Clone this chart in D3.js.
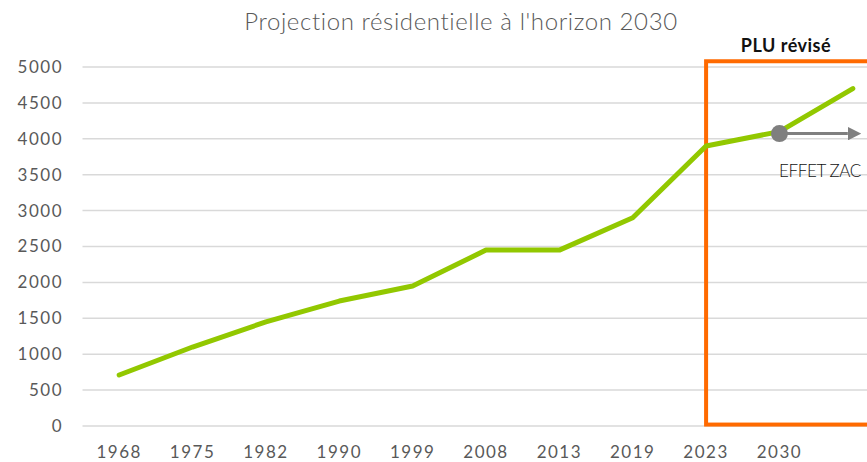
<!DOCTYPE html>
<html lang="fr">
<head>
  <meta charset="UTF-8">
  <title>Projection résidentielle à l'horizon 2030</title>
  <script src="https://d3js.org/d3.v7.min.js"></script>
  <style>
    body { margin: 0; background: #fff; }
    svg { display: block; font-family: Lato, "Open Sans", sans-serif; }
  </style>
</head>
<body>
  <div id="chart"></div>
  <script>
    // Data
    const years = ["1968", "1975", "1982", "1990", "1999", "2008", "2013", "2019", "2023", "2030", "2030+"];
    const yearLabels = ["1968", "1975", "1982", "1990", "1999", "2008", "2013", "2019", "2023", "2030", ""];
    const logements = [710, 1100, 1450, 1740, 1950, 2450, 2450, 2900, 3900, 4100, 4700];
    const yTicks = [0, 500, 1000, 1500, 2000, 2500, 3000, 3500, 4000, 4500, 5000];

    // Annotations
    const pluStart = "2023";
    const pluTop = 5080, pluBottom = 20;
    const zacYear = "2030", zacValue = 4100, zacArrowEnd = "2030+";

    const width = 867, height = 462;

    const svg = d3.select("#chart").append("svg")
      .attr("width", width)
      .attr("height", height);

    const x = d3.scaleBand().domain(years).range([82.5, 889.5]).paddingInner(0).paddingOuter(0);
    const cx = d => x(d) + x.bandwidth() / 2;
    const y = d3.scaleLinear().domain([0, 5000]).range([426, 67]);

    // Title
    svg.append("text")
      .attr("x", 461)
      .attr("y", 30)
      .attr("text-anchor", "middle")
      .style("font-size", "24px")
      .style("font-weight", 300)
      .style("letter-spacing", "0.6px")
      .style("fill", "#595959")
      .text("Projection résidentielle à l'horizon 2030");

    // Gridlines
    svg.append("g")
      .selectAll("line")
      .data(yTicks)
      .enter().append("line")
      .attr("x1", x.range()[0])
      .attr("x2", x.range()[1])
      .attr("y1", d => y(d))
      .attr("y2", d => y(d))
      .attr("stroke", "#d9d9d9")
      .attr("stroke-width", 1.5);

    // Y axis labels
    const yAxis = svg.append("g")
      .attr("transform", "translate(63,0)")
      .call(d3.axisLeft(y).tickValues(yTicks).tickFormat(d3.format("d")).tickSize(0).tickPadding(0));
    yAxis.select(".domain").remove();
    yAxis.selectAll("text")
      .style("font-size", "17px")
      .style("font-family", "Lato, sans-serif")
      .style("letter-spacing", "1.5px")
      .style("fill", "#595959");

    // X axis labels
    const xAxis = svg.append("g")
      .attr("transform", "translate(0,446)")
      .call(d3.axisBottom(x).tickSize(0).tickPadding(0).tickFormat((d, i) => yearLabels[i]));
    xAxis.select(".domain").remove();
    xAxis.selectAll("text")
      .style("font-size", "17px")
      .style("font-family", "Lato, sans-serif")
      .style("letter-spacing", "1.5px")
      .style("fill", "#595959");

    // PLU révisé box
    svg.append("rect")
      .attr("x", cx(pluStart))
      .attr("y", y(pluTop))
      .attr("width", 300)
      .attr("height", y(pluBottom) - y(pluTop))
      .attr("fill", "none")
      .attr("stroke", "#ff6a00")
      .attr("stroke-width", 4);

    svg.append("text")
      .attr("x", 786)
      .attr("y", 52)
      .attr("text-anchor", "middle")
      .style("font-size", "18px")
      .style("font-weight", "bold")
      .style("letter-spacing", "0.5px")
      .style("fill", "#111")
      .text("PLU révisé");

    // Line
    const line = d3.line()
      .x((d, i) => cx(years[i]))
      .y(d => y(d));

    svg.append("path")
      .datum(logements)
      .attr("fill", "none")
      .attr("stroke", "#92c800")
      .attr("stroke-width", 5)
      .attr("stroke-linecap", "round")
      .attr("stroke-linejoin", "round")
      .attr("d", line);

    // EFFET ZAC arrow
    svg.append("defs").append("marker")
      .attr("id", "arrow")
      .attr("viewBox", "0 0 10 10")
      .attr("refX", 0)
      .attr("refY", 5)
      .attr("markerWidth", 4.5)
      .attr("markerHeight", 4.5)
      .attr("orient", "auto")
      .append("path")
      .attr("d", "M0,0 L10,5 L0,10 Z")
      .attr("fill", "#7f7f7f");

    svg.append("line")
      .attr("x1", cx(zacYear))
      .attr("x2", cx(zacArrowEnd) - 5)
      .attr("y1", y(zacValue) + 2)
      .attr("y2", y(zacValue) + 2)
      .attr("stroke", "#7f7f7f")
      .attr("stroke-width", 3)
      .attr("marker-end", "url(#arrow)");

    svg.append("circle")
      .attr("cx", cx(zacYear))
      .attr("cy", y(zacValue) + 2)
      .attr("r", 8.5)
      .attr("fill", "#7f7f7f");

    svg.append("text")
      .attr("x", 820)
      .attr("y", 177)
      .attr("text-anchor", "middle")
      .style("font-size", "17px")
      .style("font-weight", 300)
      .style("letter-spacing", "-0.4px")
      .style("fill", "#111")
      .text("EFFET ZAC");
  </script>
</body>
</html>
